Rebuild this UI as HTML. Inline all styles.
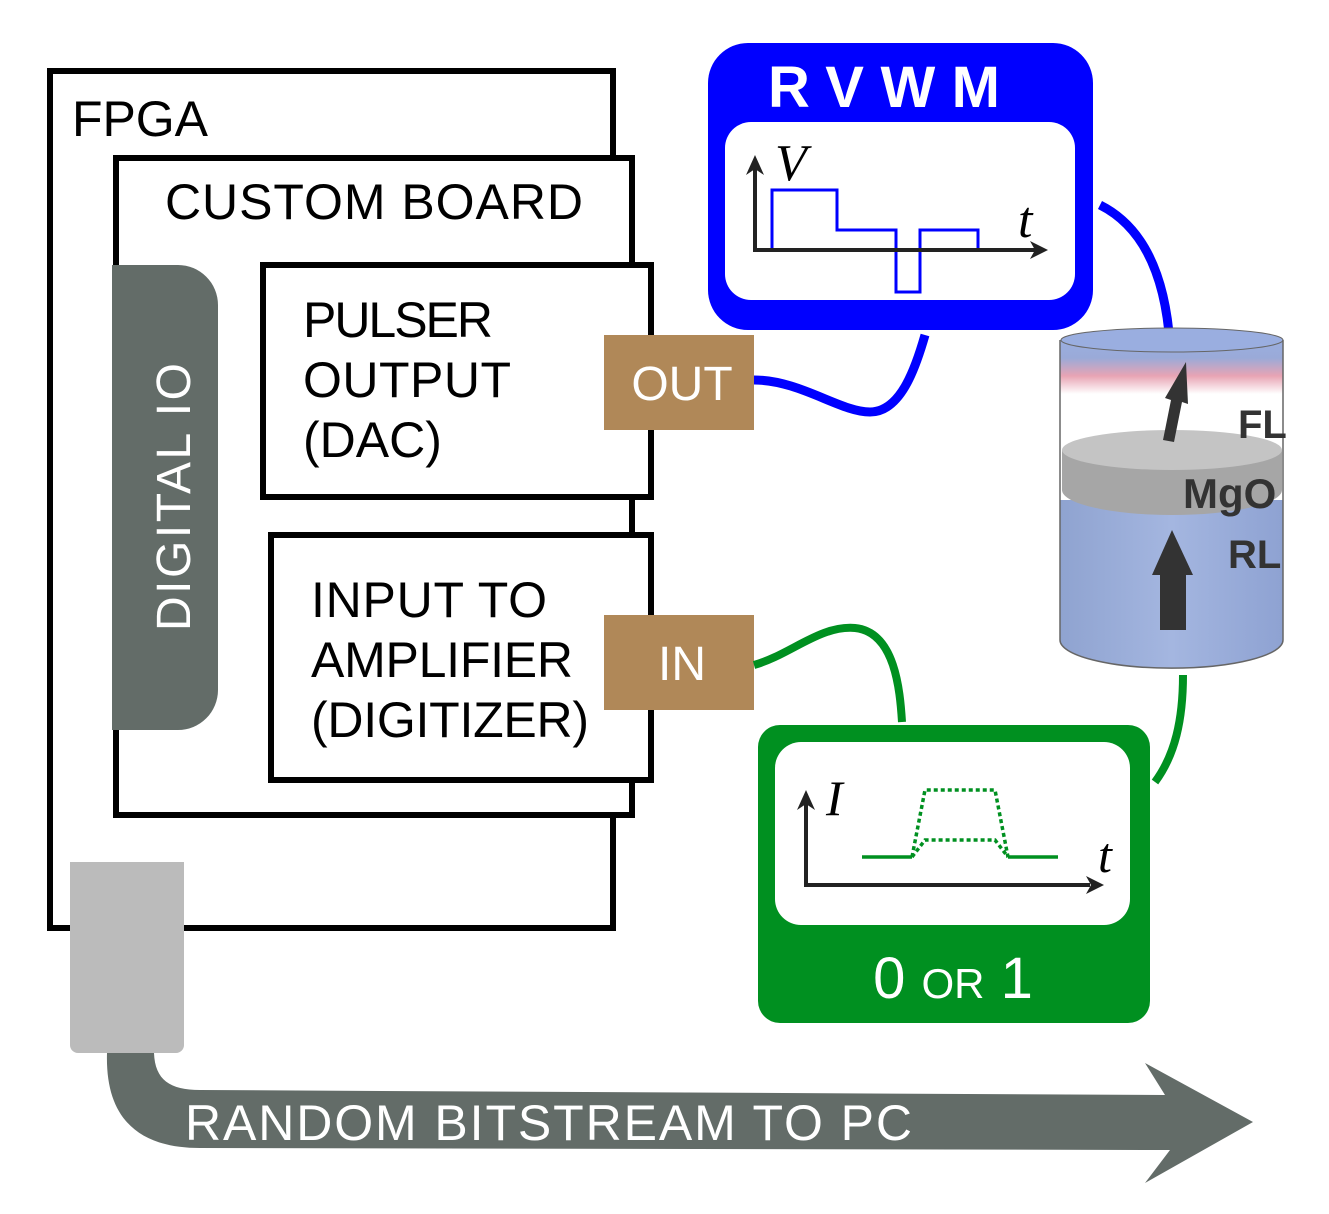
<!DOCTYPE html>
<html><head><meta charset="utf-8"><style>
html,body{margin:0;padding:0;background:#fff;}
svg{display:block;}
text{font-family:"Liberation Sans",sans-serif;}
</style></head><body>
<svg width="1329" height="1214" viewBox="0 0 1329 1214" xmlns="http://www.w3.org/2000/svg">
<defs>
<linearGradient id="cyl" x1="0" x2="1" y1="0" y2="0">
<stop offset="0" stop-color="#8fa3d0"/><stop offset="0.5" stop-color="#a4b6e0"/><stop offset="1" stop-color="#8ea2d2"/>
</linearGradient>
<linearGradient id="top" gradientUnits="userSpaceOnUse" x1="0" x2="0" y1="340" y2="460">
<stop offset="0" stop-color="#9aaee0"/><stop offset="0.15" stop-color="#9aaad8"/><stop offset="0.3" stop-color="#e8a4b4"/><stop offset="0.45" stop-color="#ffffff"/><stop offset="1" stop-color="#ffffff"/>
</linearGradient>
</defs>

<!-- FPGA -->
<rect x="50" y="71" width="563" height="857" fill="#fff" stroke="#000" stroke-width="6"/>
<text x="72" y="136" font-size="50" fill="#000" textLength="136">FPGA</text>
<!-- Custom board -->
<rect x="116" y="158" width="516" height="657" fill="#fff" stroke="#000" stroke-width="6"/>
<text x="165" y="219" font-size="50" fill="#000" textLength="418">CUSTOM BOARD</text>
<!-- Digital IO -->
<path d="M112 265 H178 A40 40 0 0 1 218 305 V690 A40 40 0 0 1 178 730 H112 Z" fill="#636c68"/>
<text transform="translate(190,497) rotate(-90)" text-anchor="middle" font-size="48" fill="#fff" textLength="268">DIGITAL IO</text>
<!-- Pulser -->
<rect x="263" y="265" width="388" height="232" fill="#fff" stroke="#000" stroke-width="6"/>
<text x="303" y="337" font-size="50" fill="#000" textLength="190">PULSER</text>
<text x="303" y="397" font-size="50" fill="#000" textLength="208">OUTPUT</text>
<text x="303" y="457" font-size="50" fill="#000">(DAC)</text>
<!-- Input -->
<rect x="271" y="535" width="380" height="245" fill="#fff" stroke="#000" stroke-width="6"/>
<text x="311" y="617" font-size="50" fill="#000" textLength="236">INPUT TO</text>
<text x="311" y="677" font-size="50" fill="#000" textLength="262">AMPLIFIER</text>
<text x="311" y="737" font-size="50" fill="#000" textLength="278">(DIGITIZER)</text>
<!-- OUT / IN -->
<rect x="604" y="335" width="150" height="95" fill="#b08858"/>
<text x="682" y="400" text-anchor="middle" font-size="48" fill="#fff">OUT</text>
<rect x="604" y="615" width="150" height="95" fill="#b08858"/>
<text x="682" y="680" text-anchor="middle" font-size="48" fill="#fff">IN</text>

<!-- wires -->
<path d="M754 380 C800 380 840 412 870 412 C900 412 915 370 925 335" fill="none" stroke="#0000ff" stroke-width="9"/>
<path d="M1100 205 C1140 225 1165 270 1170 345" fill="none" stroke="#0000ff" stroke-width="9"/>
<path d="M754 665 C790 655 820 625 855 628 C895 632 900 690 902 722" fill="none" stroke="#009020" stroke-width="8"/>
<path d="M1183 675 C1183 720 1175 755 1155 782" fill="none" stroke="#009020" stroke-width="8"/>

<!-- RVWM -->
<rect x="708" y="43" width="385" height="287" rx="40" fill="#0000ff"/>
<text x="768" y="107" font-size="58" font-weight="bold" fill="#fff" textLength="232" lengthAdjust="spacing">RVWM</text>
<rect x="725" y="122" width="350" height="178" rx="26" fill="#fff"/>
<polyline points="772,250 772,190 837,190 837,230 896,230 896,292 920,292 920,230 978,230 978,250" fill="none" stroke="#0000ff" stroke-width="3"/>
<line x1="755" y1="250" x2="1035" y2="250" stroke="#222" stroke-width="4"/>
<line x1="755" y1="252" x2="755" y2="165" stroke="#222" stroke-width="4"/>
<polygon points="755,155 746,175 755,169 764,175" fill="#222"/>
<polygon points="1048,250 1030,241 1035,250 1030,259" fill="#222"/>
<text x="775" y="180" font-size="52" font-style="italic" fill="#000" style="font-family:'Liberation Serif',serif">V</text>
<text x="1018" y="237" font-size="52" font-style="italic" fill="#000" style="font-family:'Liberation Serif',serif">t</text>

<!-- Green box -->
<rect x="758" y="725" width="392" height="298" rx="22" fill="#009020"/>
<rect x="775" y="742" width="355" height="183" rx="26" fill="#fff"/>
<path d="M862 857 H912 M1008 857 H1058" fill="none" stroke="#009020" stroke-width="3.5"/>
<path d="M912 857 L925 840 H995 L1008 857" fill="none" stroke="#009020" stroke-width="3.5" stroke-dasharray="4,3"/>
<path d="M912 857 L925 790 H995 L1008 857" fill="none" stroke="#009020" stroke-width="3.5" stroke-dasharray="4,3"/>
<line x1="806" y1="885" x2="1090" y2="885" stroke="#222" stroke-width="4"/>
<line x1="806" y1="887" x2="806" y2="800" stroke="#222" stroke-width="4"/>
<polygon points="806,790 797,810 806,804 815,810" fill="#222"/>
<polygon points="1104,885 1086,876 1091,885 1086,894" fill="#222"/>
<text x="826" y="815" font-size="50" font-style="italic" fill="#000" style="font-family:'Liberation Serif',serif">I</text>
<text x="1098" y="872" font-size="50" font-style="italic" fill="#000" style="font-family:'Liberation Serif',serif">t</text>
<text x="953" y="998" text-anchor="middle" font-size="58" fill="#fff">0 <tspan font-size="42">OR</tspan> 1</text>

<!-- Cylinder -->
<path d="M1060 340 V640 A111 28 0 0 0 1283 640 V340 Z" fill="url(#top)"/>
<path d="M1060 500 V640 A111 28 0 0 0 1283 640 V500 Z" fill="url(#cyl)"/>
<path d="M1062 450 V490 A110 25 0 0 0 1282 490 V450 Z" fill="#a6a6a6"/>
<ellipse cx="1172" cy="450" rx="110" ry="20" fill="#c4c4c4"/>
<ellipse cx="1172" cy="340" rx="111" ry="12" fill="#9aaee0" stroke="#666" stroke-width="1"/>
<path d="M1060 340 V640 A111 28 0 0 0 1283 640 V340" fill="none" stroke="#666" stroke-width="1.5"/>
<polygon points="1163,440 1171,400 1165,398 1186,362 1188,404 1182,402 1174,442" fill="#333"/>
<polygon points="1160,630 1160,575 1152,575 1172,530 1193,575 1186,575 1186,630" fill="#333"/>
<text x="1238" y="438" font-size="40" font-weight="bold" fill="#333">FL</text>
<text x="1183" y="508" font-size="42" font-weight="bold" fill="#333">MgO</text>
<text x="1228" y="568" font-size="40" font-weight="bold" fill="#333">RL</text>

<!-- Connector & arrow -->
<rect x="70" y="862" width="114" height="191" rx="8" fill="#bbbbbb"/>
<rect x="70" y="862" width="114" height="20" fill="#bbbbbb"/>
<path d="M107 1053 C105 1120 140 1148 200 1148 L1170 1150 L1145 1183 L1253 1122 L1145 1063 L1165 1095 L200 1090 C170 1090 155 1080 154 1053 Z" fill="#636c68"/>
<text x="185" y="1140" font-size="50" fill="#fff" textLength="727">RANDOM BITSTREAM TO PC</text>
</svg>
</body></html>
